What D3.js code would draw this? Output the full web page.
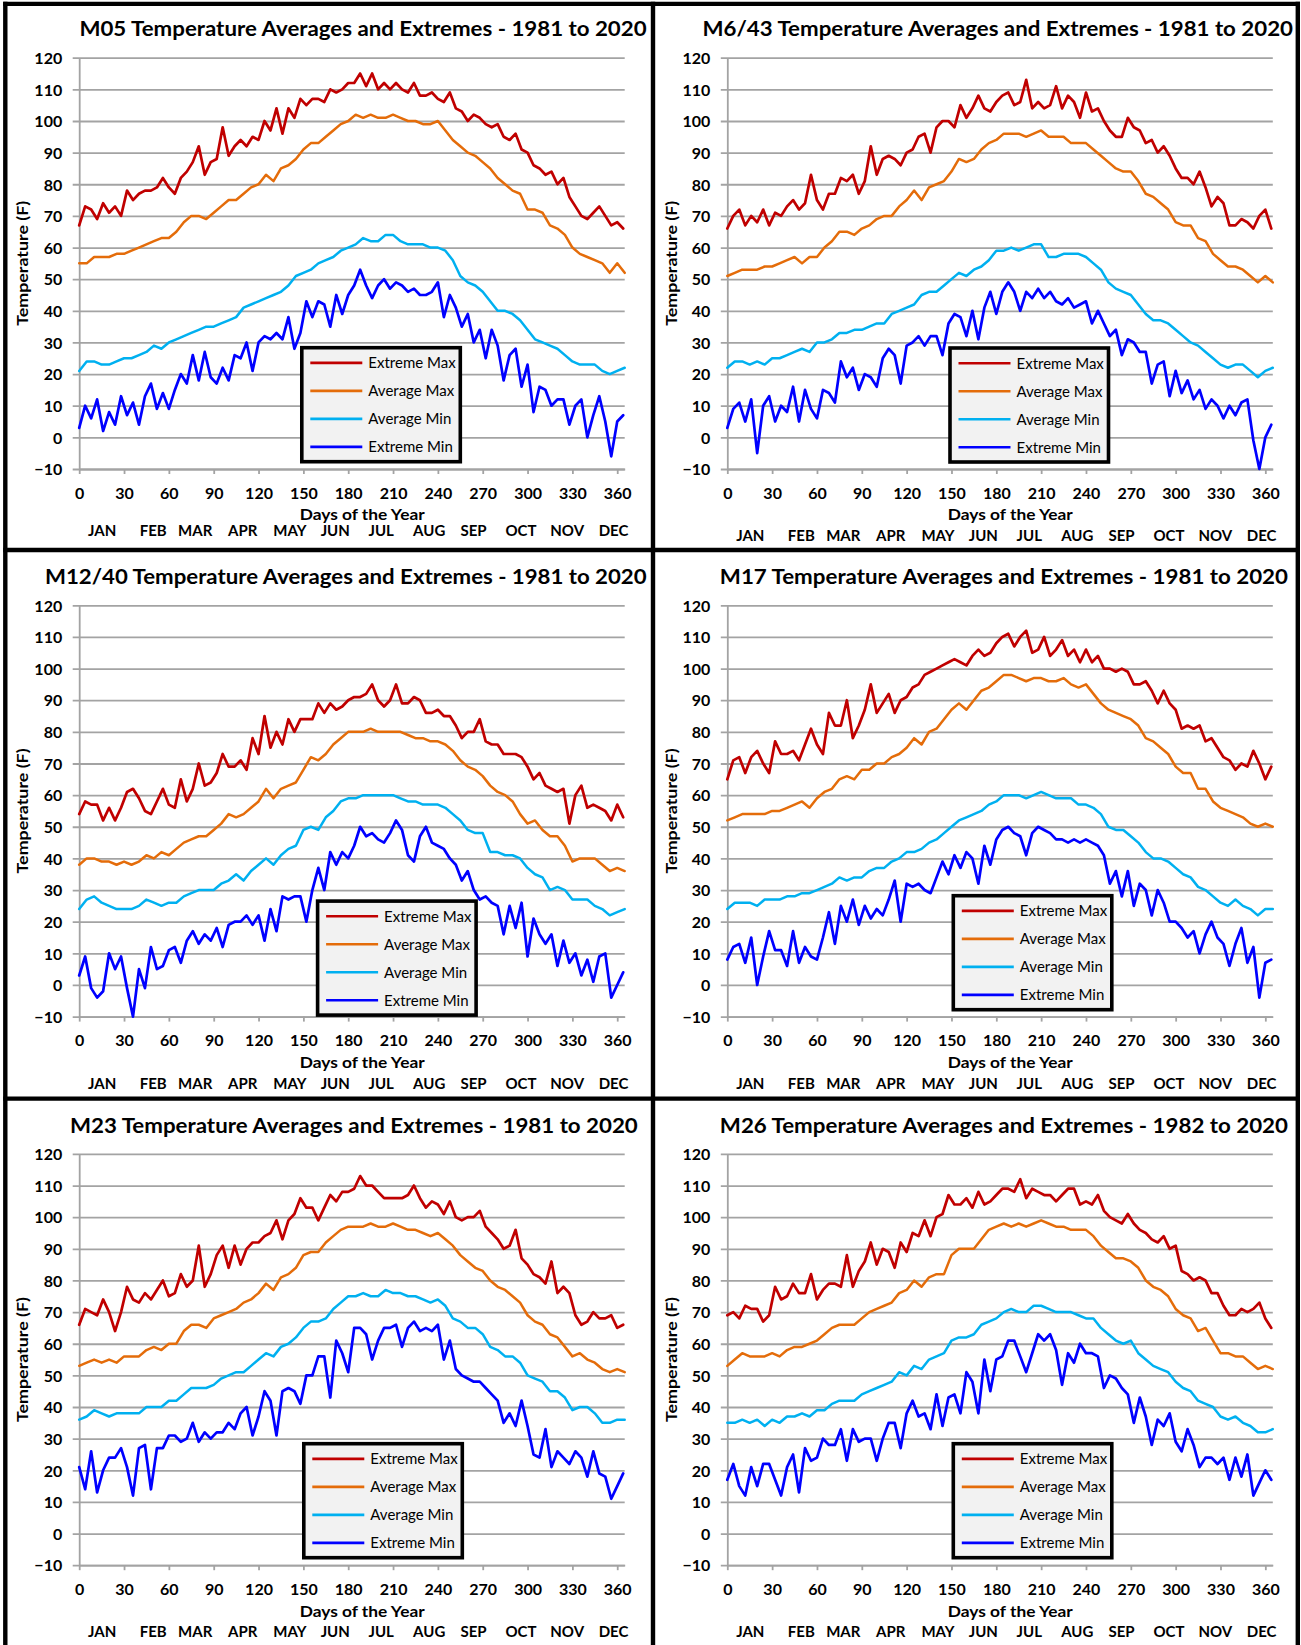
<!DOCTYPE html>
<html><head><meta charset="utf-8">
<script src="https://cdn.jsdelivr.net/npm/d3@7"></script>
<style>body{margin:0;background:#fff}svg{display:block}text{font-family:Lato,"Open Sans",sans-serif;fill:#000}</style>
</head><body><svg id="c" width="1301" height="1645"></svg>
<script>
// ---------- DATA ----------
const avgDays = [0,5,10,15,20,25,30,35,40,45,50,55,60,65,70,75,80,85,90,95,100,105,110,115,120,125,130,135,140,145,150,155,160,165,170,175,180,185,190,195,200,205,210,215,220,225,230,235,240,245,250,255,260,265,270,275,280,285,290,295,300,305,310,315,320,325,330,335,340,345,350,355,360,365];
const extDays = [0,4,8,12,16,20,24,28,32,36,40,44,48,52,56,60,64,68,72,76,80,84,88,92,96,100,104,108,112,116,120,124,128,132,136,140,144,148,152,156,160,164,168,172,176,180,184,188,192,196,200,204,208,212,216,220,224,228,232,236,240,244,248,252,256,260,264,268,272,276,280,284,288,292,296,300,304,308,312,316,320,324,328,332,336,340,344,348,352,356,360,364];
const yTicks = [-10,0,10,20,30,40,50,60,70,80,90,100,110,120];
const xTicks = [0,30,60,90,120,150,180,210,240,270,300,330,360];
const monthLabels = ["JAN","FEB","MAR","APR","MAY","JUN","JUL","AUG","SEP","OCT","NOV","DEC"];
const seriesNames = ["Extreme Max","Average Max","Average Min","Extreme Min"];
const titles = [
 "M05 Temperature Averages and Extremes - 1981 to 2020",
 "M6/43 Temperature Averages and Extremes - 1981 to 2020",
 "M12/40 Temperature Averages and Extremes - 1981 to 2020",
 "M17 Temperature Averages and Extremes - 1981 to 2020",
 "M23 Temperature Averages and Extremes - 1981 to 2020",
 "M26 Temperature Averages and Extremes - 1982 to 2020"];

const m05ExtMax = [67,73,72,69,74,71,73,70,78,75,77,78,78,79,82,79,77,82,84,87,92,83,87,88,98,89,92,94,92,95,94,100,97,104,96,104,101,107,105,107,107,106,110,109,110,112,112,115,111,115,110,112,110,112,110,109,112,108,108,109,107,106,109,104,103,100,102,101,99,98,99,95,94,96,91,90,86,85,83,84,80,82,76,73,70,69,71,73,70,67,68,66];
const m05AvgMax = [55,55,57,57,57,58,58,59,60,61,62,63,63,65,68,70,70,69,71,73,75,75,77,79,80,83,81,85,86,88,91,93,93,95,97,99,100,102,101,102,101,101,102,101,100,100,99,99,100,97,94,92,90,89,87,85,82,80,78,77,72,72,71,67,66,64,60,58,57,56,55,52,55,52];
const m05AvgMin = [21,24,24,23,23,24,25,25,26,27,29,28,30,31,32,33,34,35,35,36,37,38,41,42,43,44,45,46,48,51,52,53,55,56,57,59,60,61,63,62,62,64,64,62,61,61,61,60,60,59,56,51,49,48,46,43,40,40,39,37,34,31,30,29,28,26,24,23,23,23,21,20,21,22];
const m05ExtMin = [3,10,6,12,2,8,4,13,7,11,4,13,17,9,14,9,15,20,17,26,18,27,19,17,22,18,26,25,30,21,30,32,31,33,31,38,28,33,43,38,43,42,35,45,39,45,48,53,48,44,48,50,47,49,48,46,47,45,45,46,49,38,45,41,35,39,30,34,25,34,29,18,26,28,16,23,8,16,15,10,12,12,4,10,12,0,7,13,5,-6,5,7];

const m643ExtMax = [66,70,72,67,70,68,72,67,71,70,73,75,72,74,83,75,72,77,77,82,81,83,77,81,92,83,88,89,88,86,90,91,95,96,90,98,100,100,98,105,101,104,108,104,103,106,108,109,105,106,113,104,106,104,105,111,104,108,106,101,109,103,104,100,97,95,95,101,98,97,93,94,90,92,89,85,82,82,80,84,79,73,76,74,67,67,69,68,66,70,72,66];
const m643AvgMax = [51,52,53,53,53,54,54,55,56,57,55,57,57,60,62,65,65,64,66,67,69,70,70,73,75,78,75,79,80,81,84,88,87,88,91,93,94,96,96,96,95,96,97,95,95,95,93,93,93,91,89,87,85,84,84,81,77,76,74,72,68,67,67,63,62,58,56,54,54,53,51,49,51,49];
const m643AvgMin = [22,24,24,23,24,23,25,25,26,27,28,27,30,30,31,33,33,34,34,35,36,36,39,40,41,42,45,46,46,48,50,52,51,53,54,56,59,59,60,59,60,61,61,57,57,58,58,58,57,55,53,49,47,46,45,42,39,37,37,36,34,32,30,29,27,25,23,22,23,23,21,19,21,22];
const m643ExtMin = [3,9,11,5,12,-5,10,13,5,10,8,16,5,15,9,6,15,14,11,24,19,22,15,20,19,16,25,28,26,17,29,30,32,29,32,32,26,36,39,38,32,40,31,41,46,39,46,49,46,40,46,44,47,44,46,43,42,44,41,42,43,36,40,36,32,34,26,31,30,27,27,17,23,24,13,21,14,18,12,15,9,12,10,6,10,7,11,12,-1,-10,0,4];

const m1240ExtMax = [54,58,57,57,52,56,52,56,61,62,59,55,54,58,62,57,56,65,58,62,70,63,64,67,73,69,69,71,68,78,73,85,75,80,76,84,80,84,84,84,89,86,89,87,88,90,91,91,92,95,90,88,90,95,89,89,91,90,86,86,87,85,85,82,78,80,80,84,77,76,76,73,73,73,72,69,65,67,63,62,61,62,51,60,63,56,57,56,55,52,57,53];
const m1240AvgMax = [38,40,40,39,39,38,39,38,39,41,40,42,41,43,45,46,47,47,49,51,54,53,54,56,58,62,59,62,63,64,68,72,71,73,76,78,80,80,80,81,80,80,80,80,79,78,78,77,77,76,74,71,69,68,66,63,61,60,58,54,51,52,49,47,47,44,39,40,40,40,38,36,37,36];
const m1240AvgMin = [24,27,28,26,25,24,24,24,25,27,26,25,26,26,28,29,30,30,30,32,33,35,33,36,38,40,38,41,43,44,49,50,49,53,55,58,59,59,60,60,60,60,60,59,58,58,57,57,57,56,54,52,49,48,48,42,42,41,41,40,37,35,34,30,31,30,27,27,27,25,24,22,23,24];
const m1240ExtMin = [3,9,-1,-4,-2,10,5,9,-1,-10,5,-1,12,5,6,11,12,7,14,17,13,16,14,18,12,19,20,20,22,19,22,14,24,17,28,27,28,28,20,30,37,30,42,38,42,40,44,50,47,48,46,45,48,52,49,41,39,47,50,45,44,43,40,38,33,36,30,27,28,26,25,16,25,18,26,9,21,16,13,16,6,14,7,10,3,8,1,9,10,-4,0,4];

const m17ExtMax = [65,71,72,67,72,74,70,67,77,73,73,74,71,76,81,76,73,86,82,82,90,78,82,87,95,86,89,92,86,90,91,94,95,98,99,100,101,102,103,102,101,104,106,104,105,108,110,111,107,110,112,105,106,110,104,106,109,104,106,102,106,102,104,100,100,99,100,99,95,95,96,93,89,93,89,87,81,82,81,82,77,78,75,72,71,68,70,69,74,70,65,69];
const m17AvgMax = [52,53,54,54,54,54,55,55,56,57,58,56,59,61,62,65,66,65,68,68,70,70,72,73,75,78,76,80,81,84,87,89,87,90,93,94,96,98,98,97,96,97,97,96,96,97,95,94,95,92,89,87,86,85,84,82,78,77,75,73,69,67,67,62,62,58,56,55,54,53,51,50,51,50];
const m17AvgMin = [24,26,26,26,25,27,27,27,28,28,29,29,30,31,32,34,33,34,34,36,37,37,39,40,42,42,43,45,46,48,50,52,53,54,55,57,58,60,60,60,59,60,61,60,59,59,59,57,57,56,54,50,49,49,47,45,42,40,40,39,37,35,34,31,30,28,26,25,27,25,24,22,24,24];
const m17ExtMin = [8,12,13,7,15,0,9,17,11,11,6,17,7,12,9,8,15,23,13,25,20,27,19,25,21,24,22,27,33,20,32,31,32,30,29,34,39,35,41,37,42,40,32,44,38,46,49,50,48,47,41,48,50,49,48,46,46,45,46,45,46,45,44,41,32,36,28,36,25,32,30,22,30,26,20,20,18,15,17,10,16,20,15,13,6,13,18,7,12,-4,7,8];

const m23ExtMax = [66,71,70,69,74,70,64,70,78,74,73,76,74,77,80,75,76,82,78,80,91,78,82,88,91,84,91,85,90,92,92,94,95,99,93,99,101,106,103,103,99,103,107,105,108,108,109,113,110,110,108,106,106,106,106,107,110,106,103,105,104,101,105,100,99,100,100,102,97,95,93,90,91,96,87,85,82,81,79,86,76,78,76,69,66,67,70,68,68,69,65,66];
const m23AvgMax = [53,54,55,54,55,54,56,56,56,58,59,58,60,60,64,66,66,65,68,69,70,71,73,74,76,79,77,81,82,84,88,89,89,92,94,96,97,97,97,98,97,97,98,97,96,96,95,94,95,93,91,88,86,84,83,80,78,77,75,73,69,67,66,63,62,59,56,57,55,54,52,51,52,51];
const m23AvgMin = [36,37,39,38,37,38,38,38,38,40,40,40,42,42,44,46,46,46,47,49,50,51,51,53,55,57,56,59,60,62,65,67,67,68,71,73,75,75,76,75,75,77,76,76,75,75,74,73,74,72,68,67,65,65,63,59,58,56,56,54,50,49,48,45,45,43,39,40,40,38,35,35,36,36];
const m23ExtMin = [21,14,26,13,20,24,24,27,21,12,27,28,14,27,27,31,31,29,30,35,29,32,30,32,32,35,33,38,40,31,37,45,42,31,45,46,45,41,50,50,56,56,43,61,57,51,65,65,63,55,61,65,65,66,59,65,67,64,65,64,66,55,61,52,50,49,48,48,46,44,42,35,38,34,42,34,25,24,33,21,26,24,22,26,24,18,26,19,18,11,15,19];

const m26ExtMax = [69,70,68,72,71,71,67,69,78,74,75,79,76,76,82,74,77,79,79,78,88,78,83,86,92,85,90,89,84,92,89,95,94,99,94,100,101,107,104,104,106,103,108,104,105,107,109,109,108,112,106,109,108,107,107,105,107,109,109,104,105,104,107,102,100,99,98,101,98,96,95,93,92,94,90,91,83,82,80,81,80,76,76,72,69,69,71,70,71,73,68,65];
const m26AvgMax = [53,55,57,56,56,56,57,56,58,59,59,60,61,63,65,66,66,66,68,70,71,72,73,76,77,80,78,81,82,82,88,90,90,90,93,96,97,98,97,98,97,98,99,98,97,97,96,96,96,94,91,89,87,87,86,84,80,78,77,75,71,69,68,64,65,61,57,57,56,56,54,52,53,52];
const m26AvgMin = [35,35,36,35,36,34,36,35,37,37,38,37,39,39,41,42,42,42,44,45,46,47,48,51,50,53,52,55,56,57,61,62,62,63,66,67,68,70,71,70,70,72,72,71,70,70,70,69,68,68,65,63,61,60,61,57,55,53,52,51,48,46,45,42,41,40,37,36,37,35,34,32,32,33];
const m26ExtMin = [17,22,15,12,21,15,22,22,17,12,21,25,13,27,23,24,30,28,28,33,23,33,29,30,30,23,30,35,35,27,38,42,37,38,33,44,34,43,44,38,51,48,38,55,45,55,56,61,61,56,51,57,63,61,63,58,47,57,54,60,57,57,56,46,50,49,46,44,35,43,37,28,36,34,38,29,26,33,28,21,24,24,22,24,17,24,18,25,12,16,20,17];

// ---------- LAYOUT / STYLE ----------
const seriesColors = ["#C00000","#E46C0A","#00B0F0","#0000FF"];
const seriesWidths = [2.7,2.5,2.5,2.7];
const seriesDays = [extDays, avgDays, avgDays, extDays];
const monthOffsets = [23,74,116,163.5,210.7,256,302,350,394.3,441.7,488,534.3];
const PW = 545.5, PH = 411.3;
const colX = [79.2, 727.3];
const rowY = [57.7, 605.3, 1153.9];
const panels = [
 {t:0,col:0,row:0,tx0:79.4,tx1:646.6,lx:222.6,ly:290,mdy:61.5,data:[m05ExtMax,m05AvgMax,m05AvgMin,m05ExtMin]},
 {t:1,col:1,row:0,tx0:702.5,tx1:1293,lx:222.7,ly:290.3,mdy:66.7,data:[m643ExtMax,m643AvgMax,m643AvgMin,m643ExtMin]},
 {t:2,col:0,row:1,tx0:45,tx1:646.6,lx:238.4,ly:295.8,mdy:66.7,data:[m1240ExtMax,m1240AvgMax,m1240AvgMin,m1240ExtMin]},
 {t:3,col:1,row:1,tx0:719.8,tx1:1288,lx:226,ly:290.4,mdy:66.7,data:[m17ExtMax,m17AvgMax,m17AvgMin,m17ExtMin]},
 {t:4,col:0,row:2,tx0:70,tx1:637.8,lx:224.6,ly:289.8,mdy:66.7,data:[m23ExtMax,m23AvgMax,m23AvgMin,m23ExtMin]},
 {t:5,col:1,row:2,tx0:719.8,tx1:1288,lx:226,ly:289.8,mdy:66.7,data:[m26ExtMax,m26AvgMax,m26AvgMin,m26ExtMin]}
];
const GRID = "#A3A3A3";

const svg = d3.select("#c");
svg.append("rect").attr("width",1301).attr("height",1645).attr("fill","#fff");

panels.forEach(p => {
  const x0 = colX[p.col], y0 = rowY[p.row];
  const x = d3.scaleLinear().domain([0,365]).range([x0, x0+PW]);
  const y = d3.scaleLinear().domain([-10,120]).range([y0+PH, y0]);
  const g = svg.append("g");

  // y axis with gridlines
  const ya = g.append("g").attr("transform",`translate(${x0},0)`)
    .call(d3.axisLeft(y).tickValues(yTicks).tickSize(-PW).tickSizeOuter(0).tickPadding(17));
  ya.select(".domain").attr("stroke",GRID).attr("stroke-width",1.8);
  ya.selectAll(".tick line").attr("x1",-6.5).attr("stroke",GRID).attr("stroke-width",1.8);
  ya.selectAll(".tick text").attr("font-size",16).attr("font-weight","bold")
    .attr("font-family","Lato, 'Open Sans', sans-serif").attr("fill","#000").attr("dy","0.36em");

  // x axis
  const xa = g.append("g").attr("transform",`translate(0,${y0+PH})`)
    .call(d3.axisBottom(x).tickValues(xTicks).tickSize(5).tickSizeOuter(0).tickPadding(13.3));
  xa.select(".domain").attr("stroke",GRID).attr("stroke-width",1.8);
  xa.selectAll(".tick line").attr("stroke",GRID).attr("stroke-width",1.8);
  xa.selectAll(".tick text").attr("font-size",16).attr("font-weight","bold")
    .attr("font-family","Lato, 'Open Sans', sans-serif").attr("fill","#000");

  // series
  const line = d3.line().x(d => x(d[0])).y(d => y(d[1]));
  p.data.forEach((vals, i) => {
    const days = seriesDays[i];
    const n = Math.min(days.length, vals.length);
    const pts = d3.range(n).map(k => [days[k], vals[k]]);
    g.append("path").datum(pts).attr("d", line).attr("fill","none")
      .attr("stroke", seriesColors[i]).attr("stroke-width",seriesWidths[i])
      .attr("stroke-linejoin","round").attr("stroke-linecap","round");
  });

  // legend
  const lg = g.append("g").attr("transform",`translate(${x0+p.lx},${y0+p.ly})`);
  lg.append("rect").attr("width",158.5).attr("height",114).attr("fill","#F2F2F2")
    .attr("stroke","#000").attr("stroke-width",3.6);
  seriesNames.forEach((nm,i) => {
    const yy = 15.2 + i*28;
    lg.append("line").attr("x1",8.5).attr("x2",60.5).attr("y1",yy).attr("y2",yy)
      .attr("stroke",seriesColors[i]).attr("stroke-width",2.6);
    lg.append("text").attr("x",66.5).attr("y",yy).attr("dy","0.36em")
      .attr("font-size",15).text(nm);
  });

  // title
  g.append("text").attr("x",p.tx0).attr("y",y0-21.4).attr("font-size",21).attr("font-weight","bold")
    .attr("textLength",p.tx1-p.tx0).attr("lengthAdjust","spacingAndGlyphs").text(titles[p.t]);

  // axis titles
  g.append("text").attr("transform",`translate(${x0-56.2},${y0+PH/2}) rotate(-90)`)
    .attr("text-anchor","middle").attr("dy","0.36em").attr("font-size",15).attr("font-weight","bold")
    .attr("textLength",125).attr("lengthAdjust","spacingAndGlyphs").text("Temperature (F)");
  g.append("text").attr("x",x0+283).attr("y",y0+PH+45.7).attr("dy","0.36em")
    .attr("text-anchor","middle").attr("font-size",16).attr("font-weight","bold")
    .attr("textLength",125).attr("lengthAdjust","spacingAndGlyphs").text("Days of the Year");

  // months
  g.selectAll(".mon").data(monthLabels).join("text")
    .attr("x",(d,i)=>x0+monthOffsets[i]).attr("y",y0+PH+p.mdy).attr("dy","0.36em")
    .attr("text-anchor","middle").attr("font-size",15).attr("font-weight","bold").text(d=>d);
});

// frames
const fr = svg.append("g").attr("stroke","#000").attr("fill","none");
fr.append("line").attr("x1",5.3).attr("x2",5.3).attr("y1",1.8).attr("y2",1645);
fr.append("line").attr("x1",1297.8).attr("x2",1297.8).attr("y1",1.8).attr("y2",1645);
fr.append("line").attr("x1",653).attr("x2",653).attr("y1",1.8).attr("y2",1645);
fr.append("line").attr("x1",3.3).attr("x2",1300).attr("y1",3.9).attr("y2",3.9);
fr.append("line").attr("x1",3.3).attr("x2",1300).attr("y1",550).attr("y2",550);
fr.append("line").attr("x1",3.3).attr("x2",1300).attr("y1",1098.6).attr("y2",1098.6);
fr.selectAll("line").attr("stroke-width",4.4);
</script>
</body></html>
